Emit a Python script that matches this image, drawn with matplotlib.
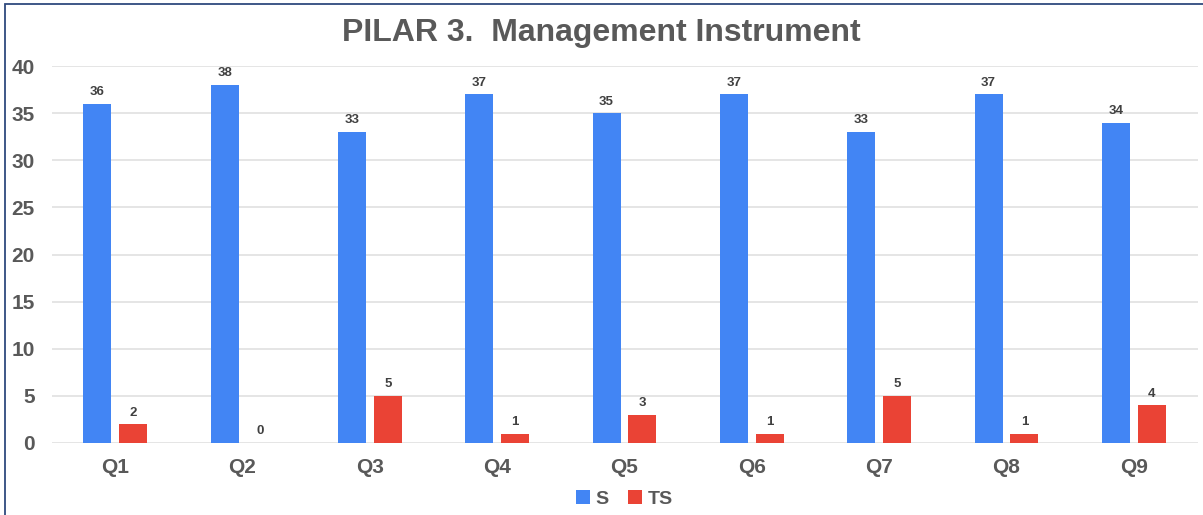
import numpy as np
import matplotlib.pyplot as plt
from matplotlib.patches import Rectangle

# dados
categorias = ['Q1', 'Q2', 'Q3', 'Q4', 'Q5', 'Q6', 'Q7', 'Q8', 'Q9']
valores_s = [36, 38, 33, 37, 35, 37, 33, 37, 34]
valores_ts = [2, 0, 5, 1, 3, 1, 5, 1, 4]

plt.rcParams['font.family'] = ['Liberation Sans', 'DejaVu Sans']

AZUL = '#4285F4'
VERMELHO = '#EA4335'
CINZA = '#595959'

fig = plt.figure(figsize=(12.03, 5.15), dpi=100)
ax = fig.add_axes([51.5 / 1203, 1 - 443 / 515, (1197.5 - 51.5) / 1203, (443 - 66) / 515])

x = np.arange(len(categorias))
largura = 0.22
desloc = 0.141

b1 = ax.bar(x - desloc, valores_s, largura, color=AZUL, label='S', zorder=3)
b2 = ax.bar(x + desloc, valores_ts, largura, color=VERMELHO, label='TS', zorder=3)

for barras in (b1, b2):
    for r in barras:
        ax.annotate(f'{int(r.get_height())}',
                    (r.get_x() + r.get_width() / 2, r.get_height()),
                    xytext=(0, 4), textcoords='offset points',
                    ha='center', va='bottom', fontsize=9.5,
                    fontweight='bold', color='#404040')

ax.set_xlim(-0.5, len(categorias) - 0.5)
ax.set_ylim(0, 40)
ax.set_yticks(range(0, 41, 5))
ax.set_xticks(x)
ax.set_xticklabels(categorias)
ax.tick_params(axis='both', length=0, labelsize=15, labelcolor=CINZA)
ax.tick_params(axis='x', pad=11)
ax.tick_params(axis='y', pad=12)
for t in ax.get_xticklabels() + ax.get_yticklabels():
    t.set_fontweight('bold')

ax.grid(axis='y', color='#e0e0e0', linewidth=1.2, zorder=0)
for s in ax.spines.values():
    s.set_visible(False)

fig.text(0.5, 1 - 33 / 515, 'PILAR 3.  Management Instrument', ha='center',
         va='center', fontsize=23, fontweight='bold', color=CINZA)

leg = ax.legend(loc='upper center', bbox_to_anchor=(0.5, -0.078), ncol=2,
                frameon=False, handlelength=0.7, handleheight=0.7,
                handletextpad=0.3, columnspacing=1.0,
                prop={'weight': 'bold', 'size': 14})
for t in leg.get_texts():
    t.set_color(CINZA)

# moldura
fig.patches.append(Rectangle((5 / 1203, -0.1), 1.2, 1 - 4 / 515 + 0.1,
                             transform=fig.transFigure, fill=False,
                             edgecolor='#2F4A7E', linewidth=1.3))

fig.savefig('out.png', dpi=100, facecolor='white')
